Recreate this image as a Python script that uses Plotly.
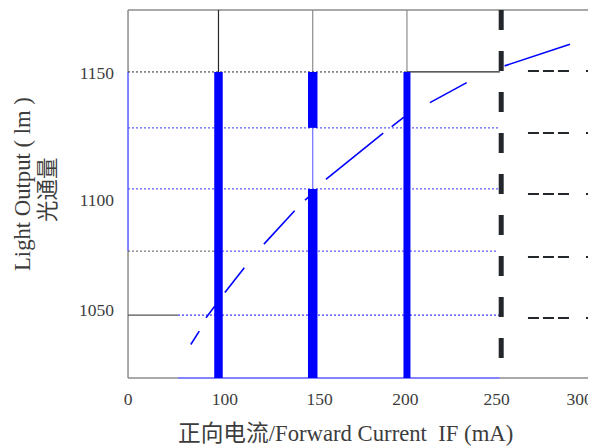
import plotly.graph_objects as go

# ---------------- data ----------------
# axes (data units: forward current mA, light output lm)
x_range = [50.4, 300.3]
y_range = [1023.3, 1176.3]
x_tick_vals = [52, 103.4, 153.6, 199.2, 247.6, 291.6]
x_tick_text = ["0", "100", "150", "200", "250", "300"]
y_tick_vals = [1149.6, 1097.3, 1052.1]
y_tick_text = ["1150", "1100", "1050"]

# frame limits
frame_x = [52.0, 300.0]
frame_y = [1024.1, 1175.5]

# blue curve, visible dash pieces separated by None
curve_current = [85.3, 89.8, None, 93.4, 98.1, None, 103.4, 113.7, None,
                 124.1, 140.4, None, 145.9, 149.0, None, 157.0, 176.5, 187.4, None,
                 191.9, 198.4, None, 212.2, 231.7, None, 251.8, 286.5]
curve_lm = [1037.9, 1043.4, None, 1048.9, 1053.7, None, 1059.3, 1069.5, None,
            1079.2, 1092.9, None, 1097.3, 1099.3, None, 1105.8, 1117.9, 1124.8, None,
            1127.5, 1131.4, None, 1137.4, 1145.6, None, 1152.5, 1161.4]

# blue bars (current, top lm); bar at 150 has a gap between gap_lo and gap_hi
bar_current = [100, 150, 200]
bar_top_lm = [1150, 1150, 1150]
gap_lo_lm = 1101.9
gap_hi_lm = 1127.0

# horizontal reference levels
grid_lm = [1150, 1127.0, 1101.9, 1076.3, 1050]
limit_current = 250
right_dash_lm = [1150.4, 1124.9, 1099.8, 1073.9, 1048.8]
right_dash_from = 264.2

BLUE = "#0000ff"
LBLUE = "#5a5aff"
DARK = "#23272b"
GREY = "#8c8c8c"
TXT = "#3c3c3c"
FONT = "Liberation Serif, Times New Roman, Noto Sans CJK SC, serif"

fig = go.Figure()


def seg(x, y, color, width, dash="solid"):
    fig.add_trace(go.Scatter(x=x, y=y, mode="lines",
                             line=dict(color=color, width=width, dash=dash),
                             hoverinfo="skip", showlegend=False))


# frame
seg([frame_x[0], frame_x[1]], [frame_y[1], frame_y[1]], GREY, 1.5)
seg([frame_x[1], frame_x[1]], [frame_y[0], frame_y[1]], GREY, 1.2)
seg([frame_x[0], frame_x[0]], [frame_y[1], grid_lm[0]], GREY, 1.5)
seg([frame_x[0], frame_x[0]], [grid_lm[0], grid_lm[3]], LBLUE, 1.5)
seg([frame_x[0], frame_x[0]], [grid_lm[3], frame_y[0]], GREY, 1.5)
seg([frame_x[0], 78.5], [frame_y[0], frame_y[0]], GREY, 1.5)
seg([78.5, 249.3], [frame_y[0], frame_y[0]], LBLUE, 1.5)
seg([249.3, frame_x[1]], [frame_y[0], frame_y[0]], GREY, 1.5)

# vertical lines above the 1150 level
seg([bar_current[0]] * 2, [grid_lm[0], frame_y[1]], DARK, 1.2)
seg([bar_current[1]] * 2, [grid_lm[0], frame_y[1]], GREY, 1.2)
seg([bar_current[2]] * 2, [grid_lm[0], frame_y[1]], GREY, 1.2)

# horizontal levels
dot = "2px,2px"
seg([frame_x[0], bar_current[2]], [grid_lm[0]] * 2, DARK, 1, dot)
seg([bar_current[2], 249.3], [grid_lm[0]] * 2, DARK, 1.2)
seg([frame_x[0], 249.3], [grid_lm[1]] * 2, LBLUE, 1.2, dot)
seg([frame_x[0], 249.3], [grid_lm[2]] * 2, LBLUE, 1.2, dot)
seg([frame_x[0], 97.6], [grid_lm[3]] * 2, "#555555", 1, dot)
seg([97.6, 248.0], [grid_lm[3]] * 2, LBLUE, 1.2, dot)
seg([frame_x[0], 78.5], [grid_lm[4]] * 2, "#555555", 1.2)
seg([78.5, 249.3], [grid_lm[4]] * 2, BLUE, 1, dot)

# right-hand short dashes
for lm in right_dash_lm:
    seg([right_dash_from, frame_x[1] + 0.3], [lm, lm], DARK, 2,
        "11px,4px,11px,4px,11px,17px")

# thin link inside the middle bar
seg([bar_current[1]] * 2, [gap_lo_lm, gap_hi_lm], "#7070ff", 1.2)

# blue bars
widths = [8.5, 9.5, 7]
for i, c in enumerate(bar_current):
    if c == 150:
        seg([c, c], [frame_y[0], gap_lo_lm], BLUE, widths[i])
        seg([c, c], [gap_hi_lm, bar_top_lm[i]], BLUE, widths[i])
    else:
        seg([c, c], [frame_y[0], bar_top_lm[i]], BLUE, widths[i])

# curve
fig.add_trace(go.Scatter(x=curve_current, y=curve_lm, mode="lines",
                         line=dict(color=BLUE, width=1.6), connectgaps=False,
                         hoverinfo="skip", showlegend=False))

# thick dashed limit line
seg([limit_current] * 2, [frame_y[1], frame_y[0]], DARK, 5, "20px,21px")

# page body adds an 8px offset; plot area on screen is x 125..596, y 8..380
PW, PH = 471.0, 372.0


def px_x(sx):
    return (sx - 125) / PW


def px_y(sy):
    return (380 - sy) / PH


title_font = dict(size=22.7, family=FONT, color=TXT)
fig.update_layout(
    width=588, height=440,
    margin=dict(l=117, r=0, t=0, b=68, autoexpand=False),
    paper_bgcolor="white", plot_bgcolor="white",
    font=dict(family=FONT, size=17.5, color=TXT),
    xaxis=dict(range=x_range, showgrid=False, zeroline=False, showline=False,
               tickmode="array", tickvals=x_tick_vals, ticktext=x_tick_text,
               ticks="", ticklabelstandoff=6, fixedrange=True),
    yaxis=dict(range=y_range, showgrid=False, zeroline=False, showline=False,
               tickmode="array", tickvals=y_tick_vals, ticktext=y_tick_text,
               ticks="", ticklabelstandoff=10, fixedrange=True),
    annotations=[
        dict(text="正向电流/Forward Current  IF (mA)", xref="paper", yref="paper",
             x=px_x(345), y=px_y(433), showarrow=False,
             xanchor="center", yanchor="middle", font=title_font),
        dict(text="Light Output ( lm )", xref="paper", yref="paper",
             x=px_x(22), y=px_y(184), showarrow=False, textangle=-90,
             xanchor="center", yanchor="middle", font=title_font),
        dict(text="光通量", xref="paper", yref="paper",
             x=px_x(47.5), y=px_y(189.5), showarrow=False, textangle=-90,
             xanchor="center", yanchor="middle", font=dict(size=21.5, family=FONT, color=TXT)),
    ],
)

fig.write_html("out.html")
